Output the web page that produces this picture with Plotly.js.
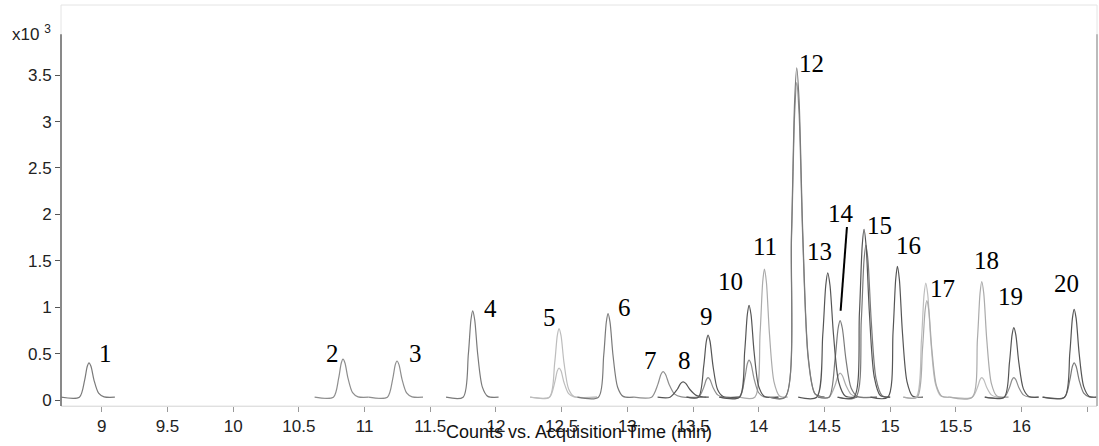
<!DOCTYPE html>
<html>
<head>
<meta charset="utf-8">
<script src="https://cdn.plot.ly/plotly-3.0.1.min.js"></script>
<style>html,body{margin:0;padding:0;background:#fff;}#chart{width:1099px;height:446px;}</style>
</head>
<body>
<div id="chart"></div>
<script>
// ---- Data (time in min, counts in x10^3) ----
const p1Time   = [8.69, 8.830, 8.870, 8.890, 8.903, 8.918, 8.941, 8.976, 9.018, 9.10];
const p1Counts = [0.03, 0.03, 0.215, 0.363, 0.40, 0.363, 0.215, 0.074, 0.034, 0.03];

const p2Time   = [10.62, 10.763, 10.803, 10.823, 10.836, 10.851, 10.874, 10.909, 10.951, 11.03];
const p2Counts = [0.03, 0.03, 0.235, 0.399, 0.44, 0.399, 0.235, 0.079, 0.034, 0.03];

const p3Time   = [11.03, 11.174, 11.214, 11.234, 11.247, 11.262, 11.285, 11.320, 11.362, 11.445];
const p3Counts = [0.03, 0.03, 0.225, 0.381, 0.42, 0.381, 0.225, 0.077, 0.034, 0.03];

const p4Time   = [11.62, 11.750, 11.790, 11.810, 11.823, 11.838, 11.861, 11.896, 11.938, 12.02];
const p4Counts = [0.03, 0.03, 0.495, 0.867, 0.96, 0.867, 0.495, 0.142, 0.039, 0.03];

const p5Time    = [12.26, 12.407, 12.447, 12.467, 12.48, 12.495, 12.518, 12.553, 12.595, 12.77];
const p5CountsA = [0.03, 0.03, 0.40, 0.696, 0.77, 0.696, 0.40, 0.119, 0.037, 0.03];
const p5CountsB = [0.03, 0.03, 0.188, 0.314, 0.345, 0.314, 0.188, 0.068, 0.033, 0.03];

const p6Time   = [12.62, 12.780, 12.820, 12.840, 12.853, 12.868, 12.891, 12.926, 12.968, 13.05];
const p6Counts = [0.03, 0.03, 0.48, 0.84, 0.93, 0.84, 0.48, 0.138, 0.039, 0.03];

const p7Time   = [13.05, 13.184, 13.232, 13.256, 13.272, 13.290, 13.318, 13.360, 13.412, 13.60];
const p7Counts = [0.03, 0.03, 0.168, 0.278, 0.305, 0.278, 0.168, 0.063, 0.033, 0.03];

const p8Time   = [13.23, 13.325, 13.379, 13.406, 13.424, 13.444, 13.476, 13.524, 13.58, 13.62];
const p8Counts = [0.03, 0.03, 0.113, 0.179, 0.195, 0.179, 0.113, 0.05, 0.032, 0.03];

const p9Time    = [13.45, 13.541, 13.581, 13.601, 13.614, 13.629, 13.652, 13.687, 13.729, 13.85];
const p9CountsA = [0.03, 0.03, 0.365, 0.633, 0.70, 0.633, 0.365, 0.110, 0.037, 0.03];
const p9CountsB = [0.03, 0.03, 0.135, 0.219, 0.24, 0.219, 0.135, 0.055, 0.032, 0.03];

const p10Time    = [13.70, 13.853, 13.893, 13.913, 13.926, 13.941, 13.964, 13.999, 14.041, 14.15];
const p10CountsA = [0.03, 0.03, 0.525, 0.921, 1.02, 0.921, 0.525, 0.149, 0.04, 0.03];
const p10CountsB = [0.03, 0.03, 0.23, 0.39, 0.43, 0.39, 0.23, 0.078, 0.034, 0.03];

const p11Time   = [13.85, 13.970, 14.010, 14.030, 14.043, 14.058, 14.081, 14.116, 14.158, 14.22];
const p11Counts = [0.03, 0.03, 0.72, 1.272, 1.41, 1.272, 0.72, 0.196, 0.044, 0.03];

const p12Time    = [14.08, 14.201, 14.249, 14.273, 14.289, 14.307, 14.335, 14.377, 14.429, 14.50];
const p12CountsA = [0.03, 0.03, 1.805, 3.225, 3.58, 3.225, 1.805, 0.456, 0.066, 0.03];
const p12CountsB = [0.03, 0.03, 1.725, 3.081, 3.42, 3.081, 1.725, 0.437, 0.064, 0.03];

const p13Time   = [14.30, 14.441, 14.487, 14.510, 14.525, 14.542, 14.569, 14.609, 14.658, 14.75];
const p13Counts = [0.03, 0.03, 0.70, 1.236, 1.37, 1.236, 0.70, 0.191, 0.043, 0.03];

const p14Time    = [14.45, 14.535, 14.581, 14.604, 14.619, 14.636, 14.663, 14.703, 14.752, 14.90];
const p14CountsA = [0.03, 0.03, 0.443, 0.773, 0.855, 0.773, 0.443, 0.129, 0.038, 0.03];
const p14CountsB = [0.03, 0.03, 0.16, 0.264, 0.29, 0.264, 0.16, 0.061, 0.033, 0.03];

const p15TimeA   = [14.60, 14.724, 14.766, 14.787, 14.801, 14.817, 14.842, 14.879, 14.925, 15.00];
const p15CountsA = [0.03, 0.03, 0.935, 1.659, 1.84, 1.659, 0.935, 0.247, 0.048, 0.03];
const p15TimeB   = [14.60, 14.738, 14.780, 14.801, 14.815, 14.831, 14.856, 14.893, 14.939, 15.00];
const p15CountsB = [0.03, 0.03, 0.85, 1.506, 1.67, 1.506, 0.85, 0.227, 0.046, 0.03];

const p16Time   = [14.85, 14.982, 15.022, 15.042, 15.055, 15.070, 15.093, 15.128, 15.170, 15.25];
const p16Counts = [0.03, 0.03, 0.735, 1.299, 1.44, 1.299, 0.735, 0.199, 0.044, 0.03];

const p17TimeA   = [15.10, 15.198, 15.238, 15.258, 15.271, 15.286, 15.309, 15.344, 15.386, 15.45];
const p17CountsA = [0.03, 0.03, 0.645, 1.137, 1.26, 1.137, 0.645, 0.178, 0.042, 0.03];
const p17TimeB   = [15.10, 15.206, 15.246, 15.266, 15.279, 15.294, 15.317, 15.352, 15.394, 15.45];
const p17CountsB = [0.03, 0.03, 0.55, 0.966, 1.07, 0.966, 0.55, 0.155, 0.04, 0.03];

const p18Time    = [15.45, 15.624, 15.664, 15.684, 15.697, 15.712, 15.735, 15.770, 15.812, 15.90];
const p18CountsA = [0.03, 0.03, 0.653, 1.151, 1.275, 1.151, 0.653, 0.179, 0.042, 0.03];
const p18CountsB = [0.03, 0.03, 0.135, 0.219, 0.24, 0.219, 0.135, 0.055, 0.032, 0.03];

const p19Time    = [15.72, 15.868, 15.908, 15.928, 15.941, 15.956, 15.979, 16.014, 16.056, 16.13];
const p19CountsA = [0.03, 0.03, 0.405, 0.705, 0.78, 0.705, 0.405, 0.12, 0.038, 0.03];
const p19CountsB = [0.03, 0.03, 0.135, 0.219, 0.24, 0.219, 0.135, 0.055, 0.032, 0.03];

const p20Time    = [16.16, 16.327, 16.367, 16.387, 16.40, 16.415, 16.438, 16.473, 16.515, 16.574];
const p20CountsA = [0.03, 0.03, 0.504, 0.882, 0.977, 0.882, 0.504, 0.144, 0.039, 0.03];
const p20CountsB = [0.03, 0.03, 0.215, 0.363, 0.40, 0.363, 0.215, 0.074, 0.034, 0.03];

const peakLabels = ["1","2","3","4","5","6","7","8","9","10","11","12","13","14","15","16","17","18","19","20"];
const xTickValues = [9, 9.5, 10, 10.5, 11, 11.5, 12, 12.5, 13, 13.5, 14, 14.5, 15, 15.5, 16, 16.5];
const xTickLabels = ["9","9.5","10","10.5","11","11.5","12","12.5","13","13.5","14","14.5","15","15.5","16",""];
const yTickValues = [0, 0.5, 1, 1.5, 2, 2.5, 3, 3.5];
const yTickLabels = ["0","0.5","1","1.5","2","2.5","3","3.5"];

// ---- Styling / layout ----
const DARK = '#555555', MID = '#7a7a7a', GREY = '#8e8e8e', LIGHT = '#ababab', PALE = '#bdbdbd';
const series = [
  [p1Time, p1Counts, MID],
  [p2Time, p2Counts, GREY],
  [p3Time, p3Counts, GREY],
  [p4Time, p4Counts, MID],
  [p5Time, p5CountsA, PALE],
  [p5Time, p5CountsB, PALE],
  [p6Time, p6Counts, MID],
  [p7Time, p7Counts, GREY],
  [p8Time, p8Counts, DARK],
  [p9Time, p9CountsB, GREY],
  [p9Time, p9CountsA, DARK],
  [p11Time, p11Counts, LIGHT],
  [p10Time, p10CountsB, GREY],
  [p10Time, p10CountsA, DARK],
  [p12Time, p12CountsB, GREY],
  [p12Time, p12CountsA, MID],
  [p14Time, p14CountsB, LIGHT],
  [p14Time, p14CountsA, MID],
  [p13Time, p13Counts, DARK],
  [p15TimeB, p15CountsB, MID],
  [p15TimeA, p15CountsA, DARK],
  [p16Time, p16Counts, DARK],
  [p17TimeA, p17CountsA, PALE],
  [p17TimeB, p17CountsB, LIGHT],
  [p18Time, p18CountsB, PALE],
  [p18Time, p18CountsA, LIGHT],
  [p19Time, p19CountsB, GREY],
  [p19Time, p19CountsA, DARK],
  [p20Time, p20CountsB, MID],
  [p20Time, p20CountsA, DARK]
];

const data = series.map(([x, y, c]) => ({
  type: 'scatter', mode: 'lines', x: x, y: y,
  line: {color: c, width: 1.2, shape: 'spline', smoothing: 0.8},
  hoverinfo: 'skip', showlegend: false
}));

// label anchor positions (layout only)
const labelPosT = [9.025, 10.753, 11.384, 11.960, 12.404, 12.975, 13.173, 13.432, 13.604, 13.782,
                   14.048, 14.398, 14.459, 14.626, 14.918, 15.139, 15.400, 15.730, 15.918, 16.339];
const labelPosV = [0.506, 0.506, 0.506, 0.991, 0.884, 1.002, 0.424, 0.424, 0.905, 1.275,
                   1.652, 3.621, 1.598, 2.012, 1.878, 1.670, 1.204, 1.501, 1.113, 1.258];

const annotations = peakLabels.map((t, i) => ({
  x: labelPosT[i], y: labelPosV[i], xref: 'x', yref: 'y', text: t, showarrow: false,
  xanchor: 'center', yanchor: 'middle',
  font: {family: 'Liberation Serif, Times New Roman, serif', size: 25, color: '#000'}
}));
annotations.push({
  x: -0.0075, y: 0.93, xref: 'paper', yref: 'paper', xanchor: 'right', yanchor: 'middle',
  text: 'x10 <sup>3</sup>', showarrow: false,
  font: {family: 'Liberation Sans, Arial, sans-serif', size: 17, color: '#222'}
});
annotations.push({
  x: 0.5, y: -0.066, xref: 'paper', yref: 'paper', xanchor: 'center', yanchor: 'middle',
  text: 'Counts vs. Acquisition Time (min)', showarrow: false,
  font: {family: 'Liberation Sans, Arial, sans-serif', size: 18, color: '#111'}
});

const X0 = 8.69, X1 = 16.574, Y0 = -0.0647, Y1 = 4.256;

const shapes = [
  {type: 'rect', xref: 'paper', yref: 'paper', x0: 0, x1: 1, y0: 0, y1: 1,
   line: {color: '#e4e4e4', width: 1}},
  {type: 'line', xref: 'paper', yref: 'y', x0: 0, x1: 0, y0: Y0, y1: 3.94,
   line: {color: '#666', width: 1.5}},
  {type: 'line', xref: 'paper', yref: 'y', x0: 1, x1: 1, y0: Y0, y1: 3.94,
   line: {color: '#a8a8a8', width: 1.5}},
  {type: 'line', xref: 'x', yref: 'y', x0: 14.671, y0: 1.864, x1: 14.623, y1: 0.962,
   line: {color: '#000', width: 2}}
];

const layout = {
  width: 1099, height: 446,
  margin: {l: 61, r: 2, t: 5, b: 40, pad: 0},
  paper_bgcolor: '#fff', plot_bgcolor: '#fff',
  font: {family: 'Liberation Sans, Arial, sans-serif', size: 17, color: '#222'},
  xaxis: {
    range: [X0, X1], tickmode: 'array', tickvals: xTickValues, ticktext: xTickLabels,
    ticks: 'outside', ticklen: 5, tickcolor: '#999', tickwidth: 1,
    showgrid: false, zeroline: false, showline: true, linecolor: '#dcdcdc', linewidth: 1,
    tickfont: {size: 17, color: '#222'}
  },
  yaxis: {
    range: [Y0, Y1], tickmode: 'array', tickvals: yTickValues, ticktext: yTickLabels,
    ticks: 'outside', ticklen: 5, tickcolor: '#555', tickwidth: 1,
    showgrid: false, zeroline: false, showline: false,
    tickfont: {size: 17, color: '#222'}
  },
  shapes: shapes,
  annotations: annotations
};

Plotly.newPlot('chart', data, layout, {staticPlot: true, displayModeBar: false});
</script>
</body>
</html>
